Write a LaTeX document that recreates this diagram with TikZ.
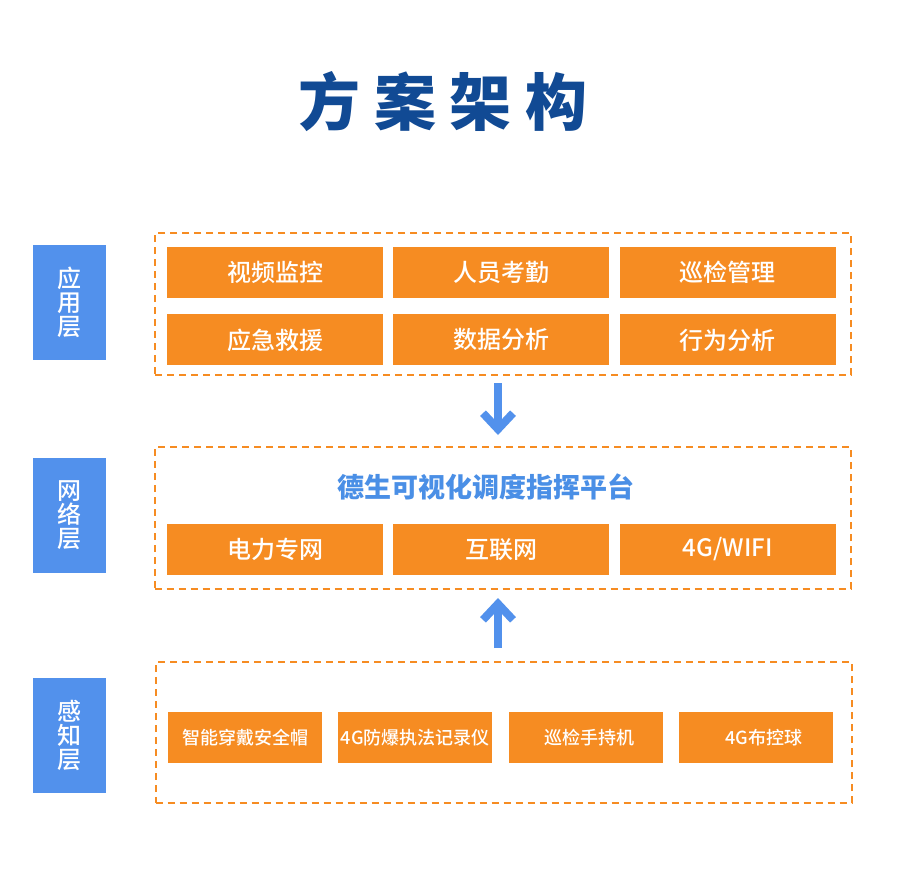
\documentclass[tikz,border=0pt]{standalone}
\usepackage{fontspec}
\setmainfont{Noto Sans CJK SC}
\newfontfamily\titolofont[LetterSpace=22]{Noto Sans CJK SC}
\newfontfamily\mediofont{Noto Sans CJK SC Medium}
\usetikzlibrary{arrows.meta, positioning}
\definecolor{arancio}{HTML}{F68C22}
\definecolor{strato}{HTML}{5291EC}
\definecolor{titolo}{HTML}{114A94}
\definecolor{piatta}{HTML}{4A8FE6}
\tikzset{
  % titolo della pagina
  titolo/.style={text=titolo, font=\titolofont\bfseries\fontsize{62}{62}\selectfont, inner sep=0pt},
  % colonna blu con il nome del livello
  livello/.style={fill=strato, minimum width=73pt, minimum height=115pt, inner sep=0pt,
    text=white, align=center, font=\mediofont\fontsize{24}{24}\selectfont},
  % cornice tratteggiata di un livello
  cornice/.style={draw=arancio, line width=2pt, dash pattern=on 7pt off 5pt,
    minimum width=696pt, minimum height=142pt, inner sep=0pt},
  % funzione (scatola arancione grande)
  funz/.style={fill=arancio, minimum width=216pt, minimum height=51pt, inner sep=0pt,
    text=white, font=\mediofont\fontsize{24}{24}\selectfont},
  % dispositivo (scatola arancione piccola)
  disp/.style={fill=arancio, minimum width=154pt, minimum height=51pt, inner sep=0pt,
    text=white, font=\mediofont\fontsize{18}{20}\selectfont},
  % testo della piattaforma
  piatt/.style={text=piatta, font=\bfseries\fontsize{27}{27}\selectfont, inner sep=0pt},
  % freccia tra i livelli
  passo/.style={line width=8pt, strato, -{Straight Barb[length=16pt, width=30pt]}},
}
\begin{document}
\begin{tikzpicture}[x=1pt, y=-1pt]
  \useasboundingbox[fill=white] (0,0) rectangle (900,871);
  \node[titolo] (tit) at (443,102) {方案架构};

  \node[livello] (lapp) at (69.5,302.5) {应\\用\\层};
  \node[livello] (lrete) at (69.5,515) {网\\络\\层};
  \node[livello] (lsens) at (69.5,735.5) {感\\知\\层};

  \node[cornice] (fapp) at (503,304) {};
  \node[cornice] (frete) at (502.5,518) {};
  \node[cornice, minimum height=141pt] (fsens) at (503.5,732.5) {};

  \node[funz] (video) at (275,272.5) {视频监控};
  \node[funz, right=10pt of video] (persone) {人员考勤};
  \node[funz, right=10pt of persone] (ronda) {巡检管理};
  \node[funz, below=16pt of video] (emerg) {应急救援};
  \node[funz, below=16pt of persone] (dati) {数据分析};
  \node[funz, below=16pt of ronda] (compo) {行为分析};

  \node[piatt] (piatt) at (485.5,487) {德生可视化调度指挥平台};
  \node[funz] (potenza) at (275,549.5) {电力专网};
  \node[funz, right=10pt of potenza] (internet) {互联网};
  \node[funz, right=10pt of internet] (wifi) {4G/WIFI};

  \node[disp] (casco) at (245,737.5) {智能穿戴安全帽};
  \node[disp, right=16pt of casco] (regis) {4G防爆执法记录仪};
  \node[disp, right=16pt of regis] (palm) {\hspace*{8pt}巡检手持机};
  \node[disp, right=16pt of palm] (sfera) {\hspace*{15pt}4G布控球};

  \coordinate (giu1) at ([yshift=-7pt]fapp.south);
  \coordinate (giu2) at ([yshift=11pt]frete.north);
  \coordinate (su1) at ([yshift=13pt]fsens.north);
  \coordinate (su2) at ([yshift=-8pt]frete.south);
  \draw[passo] (giu1 -| 498,0) -- (giu2 -| 498,0);
  \draw[passo] (su1 -| 498,0) -- (su2 -| 498,0);
\end{tikzpicture}
\end{document}
